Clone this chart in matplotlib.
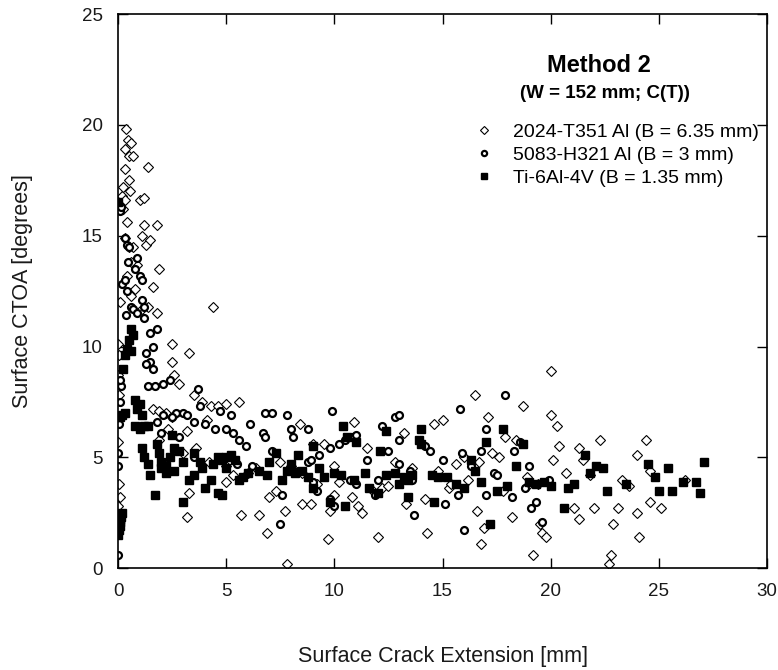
import matplotlib.pyplot as plt

plt.rcParams['font.family'] = ['Liberation Sans', 'DejaVu Sans']

# 2024-T351 Al (B = 6.35 mm)
al2024_x = [0.0, 0.05, 0.0, 0.05, 0.0, 0.05, 0.1, 0.0, 0.1, 0.2, 0.25, 0.3, 0.35, 0.3, 0.45, 0.5, 0.6, 0.7,
            0.5, 0.55, 0.3, 0.25, 0.4, 0.3, 0.5, 0.7, 0.9, 0.6, 0.4, 0.8, 0.6, 1.0, 1.2, 1.4, 1.1, 1.2, 1.8,
            1.3, 1.5, 1.9, 1.6, 1.4, 1.1, 1.8, 2.5, 2.5, 2.6, 3.3, 2.8, 4.4, 1.6, 1.9, 2.2, 2.5, 3.5, 3.9,
            4.3, 4.6, 5.0, 5.6, 4.1, 3.2, 1.9, 2.3, 3.0, 3.6, 4.2, 5.0, 5.3, 5.0, 3.3, 3.2, 5.7, 6.5, 6.9,
            7.7, 7.8, 7.0, 7.3, 8.4, 8.5, 8.9, 9.0, 9.5, 9.7, 9.8, 10.0, 10.2, 10.0, 10.8, 10.9, 11.1, 11.3,
            11.5, 12.0, 12.2, 12.8, 13.2, 13.3, 13.6, 14.2, 14.3, 14.6, 15.0, 15.3, 15.6, 16.0, 16.5, 16.6,
            16.8, 16.9, 17.1, 17.3, 17.6, 17.9, 18.2, 18.4, 18.7, 18.9, 19.2, 19.5, 19.6, 19.8, 20.0, 20.0,
            20.1, 20.3, 20.4, 20.7, 21.1, 21.3, 21.3, 21.5, 21.8, 22.0, 22.3, 22.7, 22.8, 22.9, 23.1, 23.3,
            23.6, 24.0, 24.1, 24.0, 24.4, 24.6, 24.6, 25.1, 26.2, 6.0, 6.4, 7.5, 8.0, 8.5, 9.2, 11.8, 12.5,
            14.8, 15.4, 16.2, 16.7, 17.8, 18.9, 19.4]
al2024_y = [10.1, 9.6, 8.7, 7.8, 5.7, 3.8, 3.2, 2.8, 12.0, 16.8, 17.2, 18.0, 19.8, 18.9, 19.3, 18.6, 19.2, 18.6,
            17.5, 17.0, 16.6, 16.2, 15.6, 14.9, 14.5, 14.5, 13.7, 13.8, 13.2, 12.6, 12.3, 16.6, 16.7, 18.1,
            15.0, 15.5, 15.5, 14.6, 14.8, 13.5, 12.7, 11.8, 11.7, 11.5, 10.1, 9.3, 8.7, 9.7, 8.3, 11.8, 7.2,
            7.1, 7.0, 6.8, 7.8, 7.5, 7.3, 7.3, 7.4, 7.5, 6.7, 6.2, 5.8, 6.3, 5.2, 5.4, 4.8, 4.6, 4.2, 3.9,
            3.4, 2.3, 2.4, 2.4, 1.6, 2.6, 0.2, 3.2, 3.5, 6.5, 2.9, 2.9, 5.6, 5.6, 1.3, 2.6, 4.6, 3.9, 3.3,
            3.2, 6.6, 2.8, 2.5, 5.4, 1.4, 3.6, 4.8, 6.1, 2.9, 4.5, 3.1, 1.6, 6.5, 6.7, 3.6, 4.7, 5.0, 7.8,
            2.6, 1.1, 1.8, 6.8, 5.2, 5.0, 5.9, 2.3, 5.8, 7.3, 4.1, 0.6, 2.0, 1.6, 1.4, 6.9, 8.9, 4.9, 6.4,
            5.5, 4.3, 2.7, 2.2, 5.4, 4.9, 4.2, 2.7, 5.8, 0.2, 0.6, 2.0, 2.7, 4.0, 3.7, 2.5, 1.4, 5.1, 5.8,
            4.4, 3.0, 2.7, 4.0, 4.3, 4.5, 4.8, 4.6, 4.3, 3.8, 3.5, 3.7, 4.4, 3.8, 4.0, 4.8, 3.5, 3.7, 3.8]

# 5083-H321 Al (B = 3 mm)
al5083_x = [0.0, 0.0, 0.0, 0.05, 0.1, 0.15, 0.1, 0.2, 0.1, 0.15, 0.3, 0.4, 0.45, 0.5, 0.3, 0.4, 0.35, 0.6,
            0.8, 0.9, 1.0, 1.1, 0.7, 0.9, 1.1, 1.2, 1.2, 1.3, 1.5, 1.3, 1.5, 1.6, 1.6, 1.8, 1.4, 1.7, 2.1,
            2.4, 3.7, 2.7, 3.0, 3.2, 3.5, 3.8, 4.0, 4.5, 4.7, 5.2, 5.0, 5.3, 5.6, 5.9, 6.1, 6.8, 7.1, 6.7,
            6.8, 7.1, 7.8, 8.0, 8.1, 8.8, 8.8, 9.0, 9.2, 9.9, 9.8, 9.8, 10.0, 10.2, 10.5, 10.8, 11.0, 10.7,
            11.0, 11.5, 12.0, 11.9, 12.2, 12.8, 13.0, 12.5, 13.0, 13.5, 13.6, 13.7, 13.0, 14.2, 14.4, 15.0,
            15.1, 15.7, 15.8, 15.9, 16.0, 16.3, 16.8, 17.0, 17.0, 17.4, 17.9, 17.5, 18.2, 18.3, 18.6, 18.8,
            19.0, 19.1, 19.3, 19.6, 19.9, 7.6, 7.5, 8.3, 8.9, 9.3, 5.5, 6.2, 4.8, 3.5, 2.8, 2.5, 2.1, 2.0,
            1.8]
al5083_y = [0.6, 4.6, 5.2, 6.5, 7.5, 8.2, 8.5, 12.8, 16.1, 16.3, 14.9, 14.6, 13.8, 14.5, 13.0, 12.5, 11.4,
            11.8, 13.5, 14.0, 13.2, 13.0, 11.7, 11.5, 12.1, 11.8, 11.3, 9.7, 9.3, 9.2, 10.6, 10.0, 9.0, 10.8,
            8.2, 8.2, 8.3, 8.5, 8.1, 7.0, 7.0, 6.9, 6.6, 7.3, 6.5, 6.3, 7.1, 6.9, 6.3, 6.1, 5.8, 5.5, 6.5,
            7.0, 7.0, 6.1, 5.9, 5.3, 6.9, 6.3, 5.9, 6.3, 4.8, 3.9, 3.5, 7.1, 5.4, 3.1, 2.8, 5.6, 5.8, 5.9,
            6.0, 4.0, 3.8, 4.9, 4.0, 3.3, 6.4, 6.8, 6.9, 5.3, 4.7, 4.4, 4.0, 2.4, 5.8, 5.5, 5.3, 4.9, 2.9,
            3.3, 7.2, 5.2, 1.7, 4.6, 5.3, 6.3, 3.3, 4.3, 7.8, 4.2, 3.2, 5.3, 5.7, 3.6, 4.6, 2.7, 3.0, 2.1,
            4.0, 3.3, 2.0, 4.4, 4.9, 5.1, 4.7, 4.6, 5.0, 5.0, 5.9, 6.8, 6.9, 6.1, 6.6]

# Ti-6Al-4V (B = 1.35 mm)
ti_x = [0.0, 0.05, 0.1, 0.1, 0.15, 0.2, 0.1, 0.1, 0.2, 0.3, 0.25, 0.3, 0.4, 0.5, 0.6, 0.7, 0.6, 0.0, 0.8,
        0.9, 1.0, 1.1, 0.8, 1.0, 1.2, 1.4, 1.1, 1.2, 1.4, 1.5, 1.7, 1.8, 1.9, 2.0, 2.2, 2.4, 2.6, 2.5, 2.8,
        3.0, 2.0, 2.2, 2.6, 3.0, 3.3, 3.5, 3.5, 3.8, 3.9, 4.0, 4.3, 4.4, 4.6, 4.8, 5.0, 5.2, 5.4, 4.6, 4.8,
        5.0, 5.6, 5.8, 6.0, 6.5, 6.9, 7.0, 7.3, 7.6, 7.8, 8.0, 8.2, 8.3, 8.5, 8.8, 9.0, 9.3, 9.5, 9.0, 9.8,
        10.0, 10.3, 10.4, 10.6, 10.9, 10.5, 11.0, 11.4, 11.6, 12.0, 12.1, 12.4, 12.4, 12.8, 13.0, 13.2, 13.4,
        13.6, 13.4, 14.0, 13.9, 14.0, 14.5, 14.8, 14.6, 15.2, 15.6, 16.0, 16.3, 16.5, 16.8, 17.0, 17.2,
        17.5, 17.8, 18.0, 18.4, 18.7, 19.0, 19.3, 19.7, 20.0, 20.6, 20.8, 21.1, 21.6, 21.8, 22.1, 22.4,
        22.6, 23.5, 24.5, 24.8, 25.0, 25.4, 25.6, 26.1, 26.7, 26.9, 27.1]
ti_y = [1.5, 1.7, 1.9, 2.2, 2.3, 2.5, 2.1, 6.8, 6.9, 7.0, 9.0, 9.6, 9.9, 10.3, 10.8, 10.5, 9.8, 16.5, 7.6,
        7.2, 7.4, 6.9, 6.4, 6.3, 6.4, 6.4, 5.4, 5.0, 4.7, 4.2, 3.3, 5.6, 5.2, 4.8, 4.6, 5.0, 5.4, 6.0, 5.3,
        4.8, 4.5, 4.3, 4.4, 3.0, 4.0, 4.2, 5.2, 4.8, 4.5, 3.6, 4.0, 4.7, 5.0, 4.9, 5.0, 5.1, 4.9, 3.4, 3.3,
        4.5, 4.0, 4.1, 4.3, 4.4, 4.2, 4.8, 5.2, 4.0, 4.4, 4.7, 4.3, 5.1, 4.4, 4.1, 5.5, 4.5, 4.1, 3.6, 3.0,
        4.3, 4.2, 6.4, 5.9, 4.0, 2.8, 5.7, 4.3, 3.6, 3.4, 5.3, 6.2, 4.2, 4.3, 3.8, 4.1, 4.0, 4.2, 3.2, 6.3,
        5.8, 5.6, 4.2, 4.1, 3.0, 4.1, 3.8, 3.6, 4.9, 4.4, 3.9, 5.7, 2.0, 3.5, 6.3, 3.7, 4.6, 5.6, 3.9, 3.8,
        3.9, 3.7, 2.7, 3.6, 3.8, 5.1, 4.3, 4.6, 4.5, 3.5, 3.8, 4.7, 4.1, 3.5, 4.5, 3.5, 3.9, 3.9, 3.4, 4.8]

x_ticks = [0, 5, 10, 15, 20, 25, 30]
y_ticks = [0, 5, 10, 15, 20, 25]

fig = plt.figure(figsize=(7.78, 6.70), dpi=100)
ax = fig.add_axes([0.1517, 0.152, 0.8342, 0.827])

ax.plot(al2024_x, al2024_y, 'D', ms=5.5, mfc='white', mec='black', mew=0.8, ls='none',
        label='2024-T351 Al (B = 6.35 mm)')
ax.plot(al5083_x, al5083_y, 'o', ms=5, mfc='white', mec='black', mew=1.6, ls='none',
        label='5083-H321 Al (B = 3 mm)')
ax.plot(ti_x, ti_y, 's', ms=6, mfc='black', mec='black', ls='none',
        label='Ti-6Al-4V (B = 1.35 mm)')

ax.set_xlim(0, 30)
ax.set_ylim(0, 25)
ax.set_xticks(x_ticks)
ax.set_yticks(y_ticks)
ax.tick_params(direction='in', length=7, width=1, top=True, right=True,
               labelsize=13.5, pad=11, colors='black', labelcolor='#1a1a1a')
for s in ax.spines.values():
    s.set_linewidth(1.2)

ax.set_xlabel('Surface Crack Extension [mm]', fontsize=15.5, labelpad=33, color='#1a1a1a')
ax.set_ylabel('Surface CTOA [degrees]', fontsize=15.5, labelpad=35, color='#1a1a1a')

ax.text(0.741, 0.908, 'Method 2', transform=ax.transAxes, ha='center', va='center',
        fontsize=17, fontweight='bold')
ax.text(0.750, 0.857, '(W = 152 mm; C(T))', transform=ax.transAxes, ha='center', va='center',
        fontsize=13.5, fontweight='bold')
ax.legend(loc='upper left', bbox_to_anchor=(0.5485, 0.803), frameon=False, fontsize=14,
          handletextpad=1.0, labelspacing=0.28, handlelength=1.0, borderpad=0,
          borderaxespad=0, markerscale=0.75)

fig.savefig('out.png', dpi=100)
